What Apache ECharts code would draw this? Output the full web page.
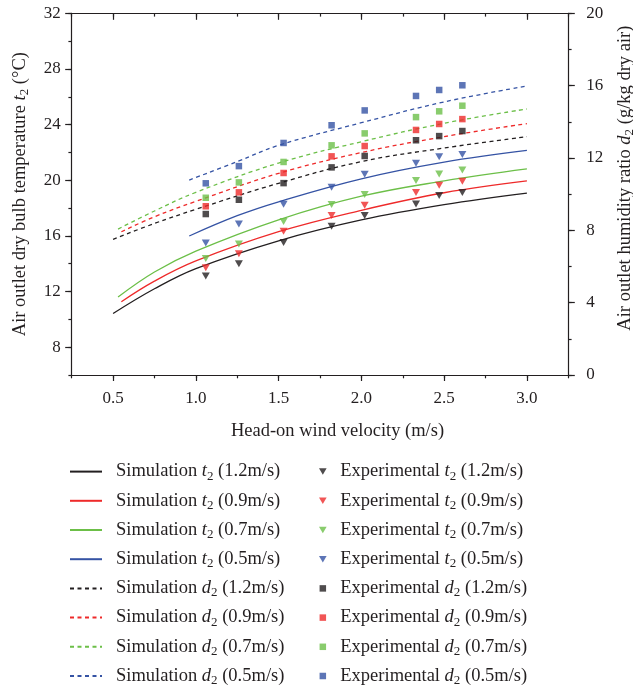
<!DOCTYPE html>
<html><head><meta charset="utf-8">
<script src="https://cdn.jsdelivr.net/npm/echarts@6/dist/echarts.min.js"></script>
<style>html,body{margin:0;padding:0;background:#fff}#c{width:633px;height:688px}</style>
</head><body><div id="c"></div>
<script>
// ---- data ----
const xMajorTicks = [0.5, 1.0, 1.5, 2.0, 2.5, 3.0];
const tMajorTicks = [8, 12, 16, 20, 24, 28, 32];
const dMajorTicks = [0, 4, 8, 12, 16, 20];
const speeds = ['1.2', '0.9', '0.7', '0.5'];
const colors = ['#231f20', '#ee2a2a', '#6cbf48', '#3553a4'];

// experimental head-on wind velocities
const expVelocity = [1.06, 1.26, 1.53, 1.82, 2.02, 2.33, 2.47, 2.61];
// experimental t2 (°C)
const expT12 = [13.11, 14.0, 15.53, 16.69, 17.46, 18.29, 18.9, 19.11];
const expT09 = [13.71, 14.72, 16.33, 17.46, 18.2, 19.11, 19.64, 19.93];
const expT07 = [14.38, 15.41, 17.03, 18.25, 18.97, 19.98, 20.45, 20.74];
const expT05 = [15.48, 16.85, 18.27, 19.49, 20.43, 21.22, 21.68, 21.85];
// experimental d2 (g/kg)
const expD12 = [8.90, 9.69, 10.61, 11.48, 12.11, 12.98, 13.21, 13.49];
const expD09 = [9.33, 10.10, 11.17, 12.09, 12.66, 13.55, 13.88, 14.15];
const expD07 = [9.80, 10.65, 11.78, 12.70, 13.36, 14.26, 14.58, 14.89];
const expD05 = [10.60, 11.55, 12.83, 13.81, 14.63, 15.43, 15.76, 16.02];

// simulation curves: [velocity, value]
const simT12 = [[0.5, 10.42], [0.75, 12.2], [1.0, 13.65], [1.5, 15.65], [2.0, 17.15], [2.5, 18.25], [3.0, 19.08]];
const simT09 = [[0.55, 11.27], [0.75, 12.75], [1.0, 14.2], [1.5, 16.3], [2.0, 17.84], [2.5, 19.1], [3.0, 19.95]];
const simT07 = [[0.53, 11.6], [0.75, 13.4], [1.0, 14.9], [1.5, 17.15], [2.0, 18.85], [2.5, 19.95], [3.0, 20.81]];
const simT05 = [[0.96, 15.99], [1.25, 17.45], [1.5, 18.45], [2.0, 20.1], [2.5, 21.3], [3.0, 22.14]];
const simD12 = [[0.5, 7.5], [0.75, 8.38], [1.0, 9.16], [1.5, 10.6], [2.0, 11.8], [2.5, 12.55], [3.0, 13.18]];
const simD09 = [[0.55, 7.92], [0.75, 8.75], [1.0, 9.6], [1.5, 11.15], [2.0, 12.3], [2.5, 13.18], [3.0, 13.9]];
const simD07 = [[0.53, 8.07], [0.75, 9.07], [1.0, 10.1], [1.5, 11.72], [2.0, 12.9], [2.5, 13.92], [3.0, 14.71]];
const simD05 = [[0.96, 10.78], [1.25, 11.8], [1.5, 12.7], [2.0, 13.95], [2.5, 15.1], [3.0, 15.98]];

// ---- build ----
const FONT = 'Liberation Serif';
const INK = '#231f20';
const simT = [simT12, simT09, simT07, simT05];
const simD = [simD12, simD09, simD07, simD05];
const expT = [expT12, expT09, expT07, expT05];
const expD = [expD12, expD09, expD07, expD05];
const tri = 'path://M0,0 L10,0 L5,8.5 Z';
const sq = 'path://M0,0 L10,0 L10,10 L0,10 Z';

const series = [];
const simNames = [], expNames = [];
speeds.forEach((s, i) => {
  const n = 'Simulation t2 (' + s + 'm/s)'; simNames.push(n);
  series.push({ name: n, type: 'line', xAxisIndex: 0, yAxisIndex: 0, data: simT[i], smooth: 0.4,
    symbol: 'none', showSymbol: false, lineStyle: { color: colors[i], width: 1.3 }, itemStyle: { color: colors[i] }, z: 2 });
});
speeds.forEach((s, i) => {
  const n = 'Simulation d2 (' + s + 'm/s)'; simNames.push(n);
  series.push({ name: n, type: 'line', xAxisIndex: 0, yAxisIndex: 1, data: simD[i], smooth: 0.4,
    symbol: 'none', showSymbol: false, lineStyle: { color: colors[i], width: 1.3, type: [4, 3.5] }, itemStyle: { color: colors[i] }, z: 2 });
});
speeds.forEach((s, i) => {
  const n = 'Experimental t2 (' + s + 'm/s)'; expNames.push(n);
  series.push({ name: n, type: 'scatter', xAxisIndex: 0, yAxisIndex: 0,
    data: expVelocity.map((v, k) => [v, expT[i][k]]), symbol: tri, symbolSize: [8, 7],
    itemStyle: { color: colors[i] }, z: 3 });
});
speeds.forEach((s, i) => {
  const n = 'Experimental d2 (' + s + 'm/s)'; expNames.push(n);
  series.push({ name: n, type: 'scatter', xAxisIndex: 0, yAxisIndex: 1,
    data: expVelocity.map((v, k) => [v, expD[i][k]]), symbol: sq, symbolSize: 6.5,
    itemStyle: { color: colors[i] }, z: 3 });
});

const FS = 18.5;
const rich = {
  n: { fontFamily: FONT, fontSize: FS, color: INK, lineHeight: 22, verticalAlign: 'middle' },
  i: { fontFamily: FONT, fontSize: FS, color: INK, fontStyle: 'italic', lineHeight: 22, verticalAlign: 'middle' },
  s: { fontFamily: FONT, fontSize: 13, color: INK, lineHeight: 22, verticalAlign: 'bottom' }
};
const fmtName = name => name.replace(/^(\w+) ([td])2 (.*)$/, '{n|$1 }{i|$2}{s|2}{n| $3}');

const labelStyle = { fontFamily: FONT, fontSize: 17, color: INK };
const line = { show: true, lineStyle: { color: INK, width: 1.2 } };
const GRID = { left: 71.7, right: 64.7, top: 13.3, bottom: 313, containLabel: false, outerBoundsMode: 'none' };

const option = {
  animation: false,
  backgroundColor: '#fff',
  grid: [Object.assign({}, GRID), Object.assign({}, GRID)],
  xAxis: [
    { type: 'value', gridIndex: 0, position: 'bottom', min: 0.25, max: 3.25,
      axisLine: line, splitLine: { show: false },
      axisTick: { show: true, inside: false, length: 6, customValues: xMajorTicks, lineStyle: { color: INK, width: 1.2 } },
      axisLabel: { show: true, customValues: xMajorTicks, margin: 15, formatter: v => v.toFixed(1), ...labelStyle },
      name: 'Head-on wind velocity (m/s)', nameLocation: 'middle', nameGap: 47,
      nameTextStyle: { fontFamily: FONT, fontSize: FS, color: INK, padding: [0, 0, 0, 35] } },
    { type: 'value', gridIndex: 0, position: 'top', min: 0.25, max: 3.25,
      axisLine: line, splitLine: { show: false },
      axisTick: { show: true, inside: true, length: 6.5, customValues: xMajorTicks, lineStyle: { color: INK, width: 1.2 } },
      axisLabel: { show: false } },
    { type: 'value', gridIndex: 1, position: 'bottom', min: 0.25, max: 3.25, interval: 0.25,
      axisLine: { show: false }, splitLine: { show: false },
      axisTick: { show: true, inside: false, length: 3.3, lineStyle: { color: INK, width: 1.2 } },
      axisLabel: { show: false } },
    { type: 'value', gridIndex: 1, position: 'top', min: 0.25, max: 3.25, interval: 0.25,
      axisLine: { show: false }, splitLine: { show: false },
      axisTick: { show: true, inside: true, length: 3.3, lineStyle: { color: INK, width: 1.2 } },
      axisLabel: { show: false } }
  ],
  yAxis: [
    { type: 'value', gridIndex: 0, position: 'left', min: 6, max: 32,
      axisLine: line, splitLine: { show: false },
      axisTick: { show: true, inside: false, length: 6.5, customValues: tMajorTicks, lineStyle: { color: INK, width: 1.2 } },
      axisLabel: { show: true, customValues: tMajorTicks, margin: 11, ...labelStyle },
      name: '{n|Air outlet dry bulb temperature }{i|t}{s|2}{n| (°C)}', nameLocation: 'middle', nameRotate: 90, nameGap: 40.5,
      nameTextStyle: { rich } },
    { type: 'value', gridIndex: 0, position: 'right', min: 0, max: 20, interval: 4,
      axisLine: line, splitLine: { show: false },
      axisTick: { show: true, inside: false, length: 6.5, customValues: dMajorTicks, lineStyle: { color: INK, width: 1.2 } },
      axisLabel: { show: true, margin: 18, ...labelStyle },
      name: '{n|Air outlet humidity ratio }{i|d}{s|2}{n| (g/kg dry air)}', nameLocation: 'middle', nameRotate: 90, nameGap: 45.5,
      nameTextStyle: { rich, padding: [0, 0, 0, 32] } },
    { type: 'value', gridIndex: 1, position: 'left', min: 6, max: 32, interval: 2,
      axisLine: { show: false }, splitLine: { show: false },
      axisTick: { show: true, inside: false, length: 3.3, lineStyle: { color: INK, width: 1.2 } },
      axisLabel: { show: false } },
    { type: 'value', gridIndex: 1, position: 'right', min: 0, max: 20, interval: 2,
      axisLine: { show: false }, splitLine: { show: false },
      axisTick: { show: true, inside: false, length: 3.3, lineStyle: { color: INK, width: 1.2 } },
      axisLabel: { show: false } }
  ],
  legend: [
    { data: simNames, orient: 'vertical', left: 69, top: 462.1, height: 300, width: 240, padding: 0, itemGap: 8.7,
      itemWidth: 32, itemHeight: 14, formatter: fmtName,
      itemStyle: { color: 'rgba(0,0,0,0)', borderColor: 'rgba(0,0,0,0)', borderWidth: 0 },
      textStyle: { rich, padding: [0, 0, 0, 9] } },
    { data: expNames, orient: 'vertical', left: 319, top: 462.1, height: 300, width: 240, padding: 0, itemGap: 8.7,
      itemWidth: 25, itemHeight: 6.5, formatter: fmtName,
      textStyle: { rich } }
  ],
  series
};
const chart = echarts.init(document.getElementById('c'), null, { renderer: 'canvas' });
chart.setOption(option);
</script></body></html>
